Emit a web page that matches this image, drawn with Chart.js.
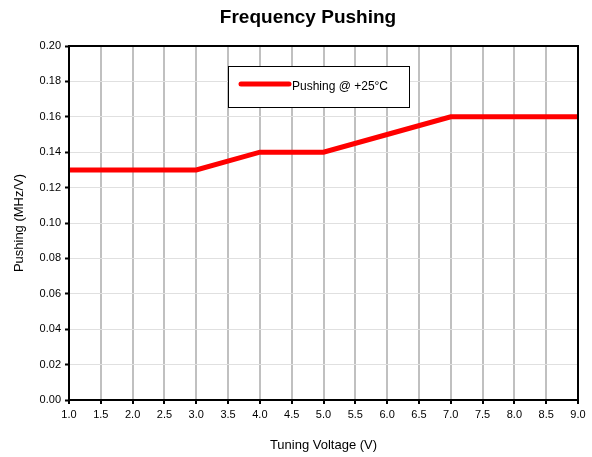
<!DOCTYPE html>
<html lang="en">
<head>
    <meta charset="UTF-8">
    <title>Frequency Pushing</title>
    <style>
        html, body { margin: 0; padding: 0; background: #fff; }
        #wrap { width: 592px; height: 457px; position: relative; }
    </style>
</head>
<body>
    <div id="wrap">
        <canvas id="myChart" width="592" height="457"></canvas>
    </div>

    <script src="https://cdn.jsdelivr.net/npm/chart.js"></script>
    <script>
        // tuning voltage (V) and pushing (MHz/V)
        var voltage = [1, 2, 3, 4, 5, 6, 7, 8, 9];
        var pushing = [0.13, 0.13, 0.13, 0.14, 0.14, 0.15, 0.16, 0.16, 0.16];
        var seriesLabel = 'Pushing @ +25°C';
        var chartTitle = 'Frequency Pushing';
        var xTicks = [1.0, 1.5, 2.0, 2.5, 3.0, 3.5, 4.0, 4.5, 5.0, 5.5, 6.0, 6.5, 7.0, 7.5, 8.0, 8.5, 9.0];
        var yTicks = [0, 0.02, 0.04, 0.06, 0.08, 0.10, 0.12, 0.14, 0.16, 0.18, 0.20];

        var font = 'Liberation Sans, Arial, sans-serif';

        // title, frame round the plot and the legend box inside it
        var framePlugin = {
            id: 'frame',
            afterDraw: function(chart) {
                var ctx = chart.ctx;
                var a = chart.chartArea;
                ctx.save();
                ctx.fillStyle = '#000';
                ctx.font = 'bold 19px ' + font;
                ctx.textAlign = 'center';
                ctx.textBaseline = 'middle';
                ctx.fillText(chartTitle, 308, 18);

                ctx.strokeStyle = '#000';
                ctx.lineWidth = 2;
                ctx.strokeRect(a.left, a.top, a.right - a.left, a.bottom - a.top);

                // legend
                var x0 = 228, y0 = 66, w = 181, h = 41;
                ctx.fillStyle = '#fff';
                ctx.fillRect(x0, y0, w, h);
                ctx.lineWidth = 1;
                ctx.strokeRect(x0 + 0.5, y0 + 0.5, w, h);
                ctx.strokeStyle = '#ff0000';
                ctx.lineWidth = 5;
                ctx.lineCap = 'round';
                ctx.beginPath();
                ctx.moveTo(241, 84);
                ctx.lineTo(289, 84);
                ctx.stroke();
                ctx.fillStyle = '#000';
                ctx.font = '12px ' + font;
                ctx.textAlign = 'left';
                ctx.fillText(seriesLabel, 292, 87);
                ctx.restore();
            }
        };

        const ctx = document.getElementById('myChart');
        const myChart = new Chart(ctx, {
            type: 'line',
            data: {
                datasets: [{
                    label: seriesLabel,
                    data: voltage.map(function(v, i) { return { x: v, y: pushing[i] }; }),
                    borderColor: '#ff0000',
                    borderWidth: 5,
                    pointRadius: 0,
                    tension: 0
                }]
            },
            options: {
                responsive: false,
                animation: false,
                layout: { padding: { top: 46, right: 14, bottom: 0, left: 8 } },
                plugins: {
                    legend: { display: false },
                    tooltip: { enabled: false },
                    title: { display: false }
                },
                scales: {
                    x: {
                        type: 'linear',
                        min: 1,
                        max: 9,
                        afterBuildTicks: function(scale) {
                            scale.ticks = xTicks.map(function(v) { return { value: v }; });
                        },
                        afterFit: function(scale) { scale.height = 57; },
                        grid: {
                            color: '#c0c0c0',
                            lineWidth: 2,
                            drawTicks: true,
                            tickLength: 4,
                            tickColor: '#000',
                            tickWidth: 2
                        },
                        border: { color: '#000', width: 2 },
                        ticks: {
                            color: '#000',
                            font: { family: font, size: 11 },
                            padding: 4,
                            maxRotation: 0,
                            callback: function(v) { return v.toFixed(1); }
                        },
                        title: {
                            display: true,
                            text: 'Tuning Voltage (V)',
                            color: '#000',
                            font: { family: font, size: 13 },
                            padding: { top: 11 }
                        }
                    },
                    y: {
                        min: 0,
                        max: 0.2,
                        afterBuildTicks: function(scale) {
                            scale.ticks = yTicks.map(function(v) { return { value: v }; });
                        },
                        afterFit: function(scale) { scale.width = 61; },
                        grid: {
                            color: '#e0e0e0',
                            lineWidth: 1,
                            drawTicks: true,
                            tickLength: 4,
                            tickColor: '#000',
                            tickWidth: 2
                        },
                        border: { color: '#000', width: 2 },
                        ticks: {
                            color: '#000',
                            font: { family: font, size: 11 },
                            padding: 4,
                            callback: function(v) { return v.toFixed(2); }
                        },
                        title: {
                            display: true,
                            text: 'Pushing (MHz/V)',
                            color: '#000',
                            font: { family: font, size: 13 },
                            padding: { bottom: 4 }
                        }
                    }
                }
            },
            plugins: [framePlugin]
        });
    </script>
</body>
</html>
